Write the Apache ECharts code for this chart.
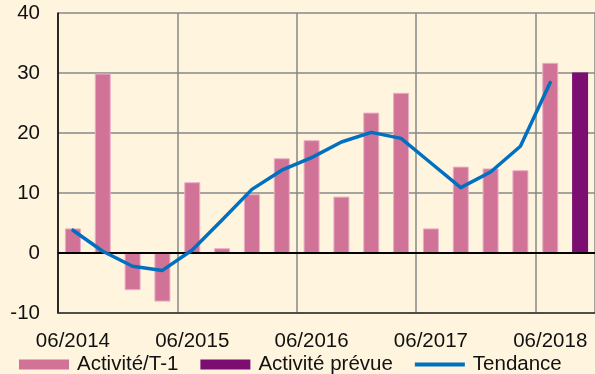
<!DOCTYPE html>
<html>
<head>
<meta charset="utf-8">
<script src="https://cdn.jsdelivr.net/npm/echarts@6/dist/echarts.min.js"></script>
<style>
  html, body { margin: 0; padding: 0; background: #FFF5DF; }
  #chart { width: 595px; height: 374px; }
</style>
</head>
<body>
<div id="chart"></div>
<script>
// Quarterly categories (end of quarter)
const categories = ['06/2014', '09/2014', '12/2014', '03/2015', '06/2015', '09/2015',
  '12/2015', '03/2016', '06/2016', '09/2016', '12/2016', '03/2017', '06/2017',
  '09/2017', '12/2017', '03/2018', '06/2018', '09/2018'];

// Activité/T-1 (observed)
const activite = [4.1, 29.9, -6.2, -8.1, 11.8, 0.8, 9.8, 15.8, 18.8, 9.4, 23.4, 26.7,
  4.1, 14.4, 14.1, 13.8, 31.7, null];

// Activité prévue (forecast, last quarter only)
const prevue = [null, null, null, null, null, null, null, null, null, null, null, null,
  null, null, null, null, null, 30.1];

// Tendance
const tendance = [3.8, 0.3, -2.2, -2.9, 0.5, 5.5, 10.6, 13.8, 15.9, 18.5, 20.1, 19.1,
  15.0, 10.9, 13.5, 17.8, 28.4, null];

// Value axis ticks
const yMin = -10, yMax = 40, yStep = 10;

const font = 'Liberation Sans, Arial, sans-serif';
const fs = 20.5;
const chart = echarts.init(document.getElementById('chart'), null, { renderer: 'canvas' });

chart.setOption({
  backgroundColor: '#FFF5DF',
  animation: false,
  textStyle: { fontFamily: font },
  grid: { left: 58, top: 13, width: 538, height: 300, containLabel: false },
  legend: {
    left: 19,
    top: 354,
    padding: 0,
    itemWidth: 50,
    itemHeight: 10,
    itemGap: 22,
    textStyle: { fontSize: fs, color: '#111', fontFamily: font, padding: [3, 0, 0, 3] },
    data: [
      { name: 'Activité/T-1', icon: 'rect', itemStyle: { borderWidth: 0 } },
      { name: 'Activité prévue', icon: 'rect' },
      { name: 'Tendance', icon: 'path://M0,0H50V3.8H0Z', itemStyle: { color: '#0070C0' } }
    ]
  },
  xAxis: {
    type: 'category',
    data: categories,
    boundaryGap: true,
    axisLine: { onZero: false, lineStyle: { color: '#333', width: 1.5 } },
    axisTick: { show: false },
    axisLabel: { interval: 3, margin: 18, fontSize: fs, color: '#111', fontFamily: font },
    splitLine: { show: true, interval: 3, lineStyle: { color: '#878787', width: 1.5 } }
  },
  yAxis: {
    type: 'value',
    min: yMin,
    max: yMax,
    interval: yStep,
    axisLine: { show: true, lineStyle: { color: '#000', width: 1.5 } },
    axisTick: { show: false },
    axisLabel: { margin: 18, fontSize: fs, color: '#111', fontFamily: font },
    splitLine: { show: true, lineStyle: { color: '#878787', width: 1.5 } }
  },
  series: [
    {
      name: 'Activité/T-1',
      type: 'bar',
      data: activite,
      barWidth: 16,
      barGap: '-100%',
      itemStyle: { color: '#D07397', borderColor: '#E9AFC5', borderWidth: 1 },
      markLine: {
        silent: true,
        symbol: 'none',
        label: { show: false },
        lineStyle: { color: '#000', width: 2, type: 'solid' },
        data: [{ yAxis: 0 }]
      }
    },
    {
      name: 'Activité prévue',
      type: 'bar',
      data: prevue,
      barWidth: 16,
      barGap: '-100%',
      itemStyle: { color: '#7B0E70' }
    },
    {
      name: 'Tendance',
      type: 'line',
      data: tendance,
      symbol: 'none',
      z: 5,
      lineStyle: { color: '#0070C0', width: 3.5, cap: 'round', join: 'round' },
      itemStyle: { color: '#0070C0' }
    }
  ]
});
</script>
</body>
</html>
